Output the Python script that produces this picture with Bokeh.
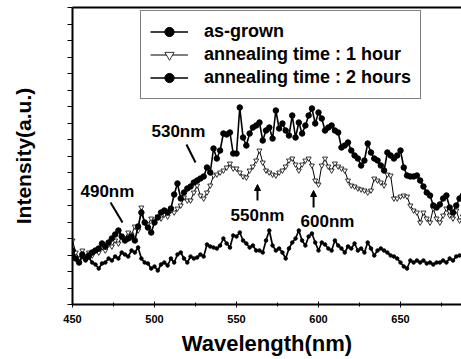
from bokeh.plotting import figure
from bokeh.models import (Range1d, SingleIntervalTicker, FixedTicker, LinearAxis, Legend,
                          LegendItem, Label, Arrow, NormalHead, ColumnDataSource,
                          CustomJSTickFormatter)
from bokeh.embed import file_html
from bokeh.resources import INLINE

# ---------------- data ----------------
wavelength = list(range(450, 690, 2))

as_grown = [49, 46, 42, 48, 44, 47, 42, 40, 36, 41,
            42, 46, 44, 48, 46, 52, 50, 48, 54, 52,
            57, 46, 42, 41, 36, 38, 34, 40, 42, 39,
            46, 42, 50, 52, 46, 42, 48, 46, 47, 50,
            48, 60, 58, 57, 56, 59, 66, 61, 57, 69,
            68, 72, 64, 61, 57, 59, 54, 54, 52, 64,
            74, 59, 54, 56, 52, 46, 56, 62, 66, 74,
            64, 59, 68, 71, 62, 54, 62, 60, 56, 54,
            64, 59, 56, 52, 58, 56, 61, 54, 56, 52,
            62, 56, 49, 54, 56, 54, 52, 49, 48, 46,
            42, 38, 36, 44, 42, 44, 42, 44, 41, 42,
            40, 42, 42, 44, 42, 46, 44, 48, 49, 50]

anneal_1h = [64, 52, 46, 54, 48, 52, 49, 54, 52, 57,
             54, 60, 58, 64, 61, 68, 66, 72, 70, 78,
             74, 97, 82, 80, 86, 84, 88, 86, 90, 88,
             94, 92, 96, 99, 107, 104, 104, 112, 119, 109,
             106, 112, 119, 129, 130, 132, 134, 137, 141, 136,
             136, 132, 128, 127, 134, 138, 144, 154, 142, 134,
             132, 130, 129, 132, 134, 138, 144, 146, 140, 134,
             140, 144, 146, 139, 124, 120, 139, 146, 138, 134,
             141, 138, 136, 134, 124, 119, 118, 116, 115, 114,
             112, 114, 126, 124, 122, 119, 130, 129, 106, 106,
             108, 109, 108, 99, 94, 92, 82, 92, 86, 82,
             96, 86, 82, 89, 96, 89, 86, 94, 84, 88]

anneal_2h = [54, 46, 42, 50, 46, 49, 52, 54, 56, 61,
             58, 62, 66, 70, 74, 68, 64, 66, 68, 64,
             78, 92, 82, 77, 72, 82, 87, 92, 94, 92,
             96, 110, 121, 106, 112, 116, 118, 122, 124, 126,
             128, 137, 132, 156, 146, 154, 171, 170, 172, 151,
             151, 197, 167, 159, 171, 177, 179, 182, 164, 174,
             177, 166, 194, 176, 181, 174, 169, 189, 167, 182,
             171, 179, 189, 196, 181, 192, 186, 174, 177, 179,
             174, 172, 157, 159, 162, 154, 149, 146, 139, 144,
             161, 152, 146, 144, 139, 134, 152, 149, 146, 149,
             154, 137, 129, 128, 128, 129, 124, 118, 112, 109,
             99, 97, 100, 106, 109, 97, 92, 99, 106, 109]

series_labels = ["as-grown", "annealing time : 1 hour", "annealing time : 2 hours"]

ann_text = ["530nm", "490nm", "550nm", "600nm"]
ann_x = [514.6, 471.3, 562.8, 605.5]
ann_y = [173, 113, 89, 83]

# pointer lines (530nm, 490nm) and arrows (550nm, 600nm)
line_x0 = [519.5, 473.2]
line_y0 = [160, 102]
line_x1 = [525.0, 480.5]
line_y1 = [142, 82]
arrow_x = [562.8, 597.0]
arrow_y0 = [104, 97]
arrow_y1 = [120, 114]

FONT = "Liberation Sans"

# ---------------- figure ----------------
p = figure(frame_width=389, frame_height=297,
           x_range=Range1d(450, 687.2), y_range=Range1d(0, 297),
           output_backend="svg", toolbar_location=None,
           min_border_left=72, min_border_right=0, min_border_top=7, min_border_bottom=0)
p.outline_line_color = None
p.xgrid.visible = False
p.ygrid.visible = False
p.background_fill_color = "white"
p.border_fill_color = "white"

src = ColumnDataSource(dict(x=wavelength, g=as_grown, h1=anneal_1h, h2=anneal_2h))

r0l = p.line("x", "g", source=src, line_color="black", line_width=1.7)
r0s = p.scatter("x", "g", source=src, marker="circle", size=3.5, fill_color="black", line_color="black")

r1l = p.line("x", "h1", source=src, line_color="black", line_width=1)
r1s = p.scatter("x", "h1", source=src, marker="inverted_triangle", size=5,
                fill_color="white", line_color="black", line_width=0.8)

r2l = p.line("x", "h2", source=src, line_color="black", line_width=1.6)
r2s = p.scatter("x", "h2", source=src, marker="circle", size=5.5, fill_color="black", line_color="black")

# axes
for ax in (p.xaxis, p.yaxis):
    ax.axis_line_width = 2
    ax.axis_line_color = "black"
    ax.major_tick_line_color = "black"
    ax.minor_tick_line_color = "black"
    ax.major_label_text_color = "black"
    ax.axis_label_text_color = "black"
    ax.axis_label_text_font = FONT
    ax.axis_label_text_font_style = "bold"

p.xaxis.ticker = SingleIntervalTicker(interval=50, num_minor_ticks=2)
p.xaxis.axis_label = "Wavelength(nm)"
p.xaxis.major_tick_in = 3
p.xaxis.major_tick_out = 3
p.xaxis.minor_tick_in = 2
p.xaxis.minor_tick_out = 2
p.xaxis.major_label_standoff = 7
p.xaxis.major_label_text_font = FONT
p.xaxis.major_label_text_font_style = "bold"
p.xaxis.major_label_text_font_size = "11px"
p.xaxis.axis_label_text_font_size = "22px"
p.xaxis.axis_label_standoff = 5

p.yaxis.ticker = SingleIntervalTicker(interval=16.5, num_minor_ticks=0)
p.yaxis.formatter = CustomJSTickFormatter(code="return ''")
p.yaxis.axis_label = "Intensity(a.u.)"
p.yaxis.major_tick_in = 0
p.yaxis.major_tick_out = 5
p.yaxis.major_label_standoff = 0
p.yaxis.axis_label_text_font_size = "21px"
p.yaxis.axis_label_standoff = 33

# top frame line
top_axis = LinearAxis(ticker=FixedTicker(ticks=[]), axis_line_width=2, axis_line_color="black",
                      major_label_standoff=0, major_tick_out=0, major_tick_in=0,
                      minor_tick_out=0, minor_tick_in=0)
p.add_layout(top_axis, "above")

# annotations
for t, x, y in zip(ann_text, ann_x, ann_y):
    p.add_layout(Label(x=x, y=y, text=t, text_align="center", text_baseline="middle",
                       text_font=FONT, text_font_style="bold", text_font_size="17px",
                       text_color="black"))
p.segment(line_x0, line_y0, line_x1, line_y1, line_color="black", line_width=2)
for x, y0, y1 in zip(arrow_x, arrow_y0, arrow_y1):
    p.add_layout(Arrow(end=NormalHead(size=6, fill_color="black", line_color="black"),
                       x_start=x, y_start=y0, x_end=x, y_end=y1,
                       line_color="black", line_width=2))

legend = Legend(items=[LegendItem(label=series_labels[0], renderers=[r0l, r0s]),
                       LegendItem(label=series_labels[1], renderers=[r1l, r1s]),
                       LegendItem(label=series_labels[2], renderers=[r2l, r2s])],
                location=(68, 205), label_text_font=FONT, label_text_font_style="bold",
                label_text_font_size="18px", label_text_color="black",
                glyph_width=38, glyph_height=23,
                label_height=23, spacing=0, padding=9, label_standoff=16,
                border_line_color="black", border_line_width=1, margin=0,
                background_fill_alpha=1)
p.add_layout(legend)

open("out.html", "w").write(file_html(p, INLINE))
